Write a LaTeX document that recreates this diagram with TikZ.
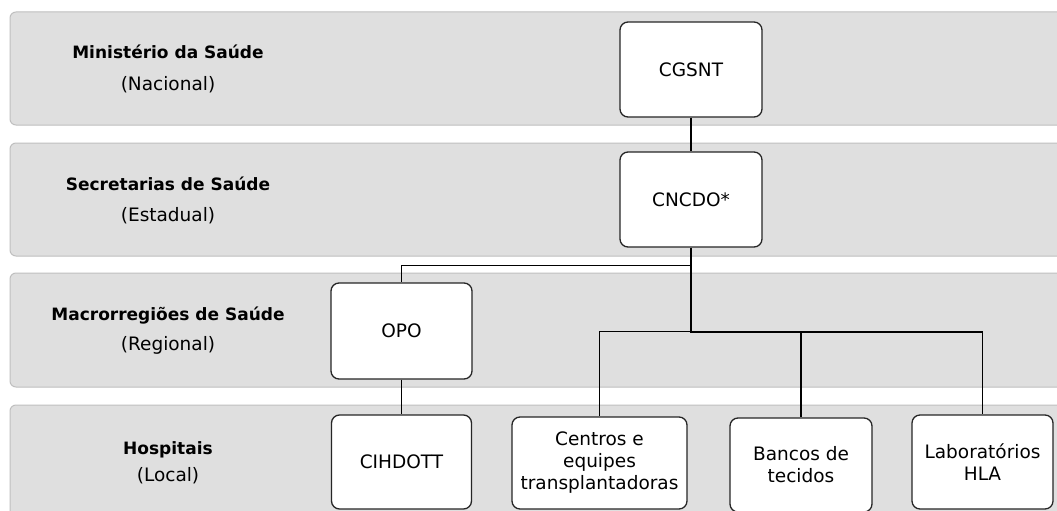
\documentclass[tikz,border=0pt]{standalone}
\usepackage{fontspec}
\setmainfont{DejaVu Sans}

\begin{document}
\begin{tikzpicture}[x=1pt, y=-1pt,
    faixa/.style={draw=gray!50, fill=gray!25, rounded corners=6pt, line width=1pt},
    orgao/.style={draw=black!85, fill=white, rounded corners=8pt, line width=1.3pt,
      align=center, inner sep=0pt, minimum width=142pt, minimum height=95pt,
      font=\fontsize{18.5}{22}\selectfont},
    esfera/.style={anchor=base, font=\fontsize{17}{20}\selectfont\bfseries},
    ambito/.style={anchor=base, font=\fontsize{18.5}{22}\selectfont},
    liga/.style={line width=1.2pt},
    tronco/.style={line width=2pt}]

      \useasboundingbox (0,0) rectangle (1057,511);
      \clip (0,0) rectangle (1057,511);
      %%
      \draw[faixa] (10,12) rectangle (1080,125);
      \draw[faixa] (10,143) rectangle (1080,256);
      \draw[faixa] (10,273) rectangle (1080,387);
      \draw[faixa] (10,405) rectangle (1080,522);
      %%
      \node[esfera] (ms)   at (168,59)  {Ministério da Saúde};
      \node[ambito] (nac)  at (168,90)  {(Nacional)};
      \node[esfera] (ss)   at (168,190) {Secretarias de Saúde};
      \node[ambito] (est)  at (168,221) {(Estadual)};
      \node[esfera] (mr)   at (168,320) {Macrorregiões de Saúde};
      \node[ambito] (reg)  at (168,350) {(Regional)};
      \node[esfera] (hosp) at (168,454) {Hospitais};
      \node[ambito] (loc)  at (168,481) {(Local)};
      %%
      \node[orgao] (cgsnt) at (691,69.5)  {CGSNT};
      \node[orgao] (cncdo) at (691,199.5) {CNCDO*};
      \node[orgao, minimum width=141pt, minimum height=96pt] (opo) at (401.5,331) {OPO};
      \node[orgao, minimum width=140pt, minimum height=94pt] (cihdott) at (401.5,462) {CIHDOTT};
      \node[orgao, minimum width=175pt, minimum height=92pt] (centros) at (599.5,463)
        {Centros e\\ equipes\\ transplantadoras};
      \node[orgao, minimum height=94pt] (bancos) at (801,465) {Bancos de\\ tecidos};
      \node[orgao, minimum width=141pt, minimum height=94pt] (lab) at (982.5,462)
        {Laboratórios\\ HLA};
      %%
      \coordinate (ramo)  at ([yshift=-18pt]cncdo.south);
      \coordinate (barra) at ([yshift=-84pt]cncdo.south);
      \draw[liga] (cgsnt) -- (cncdo);
      \draw[tronco] (cncdo.south) -- (barra) -- (barra -| lab.north);
      \draw[liga] (ramo) -| (opo.north);
      \draw[liga] (opo) -- (cihdott);
      \draw[liga] (barra) -| (centros.north);
      \draw[liga] (bancos.north |- barra) -- (bancos.north);
      \draw[liga] (barra -| lab.north) -- (lab.north);

\end{tikzpicture}
\end{document}
